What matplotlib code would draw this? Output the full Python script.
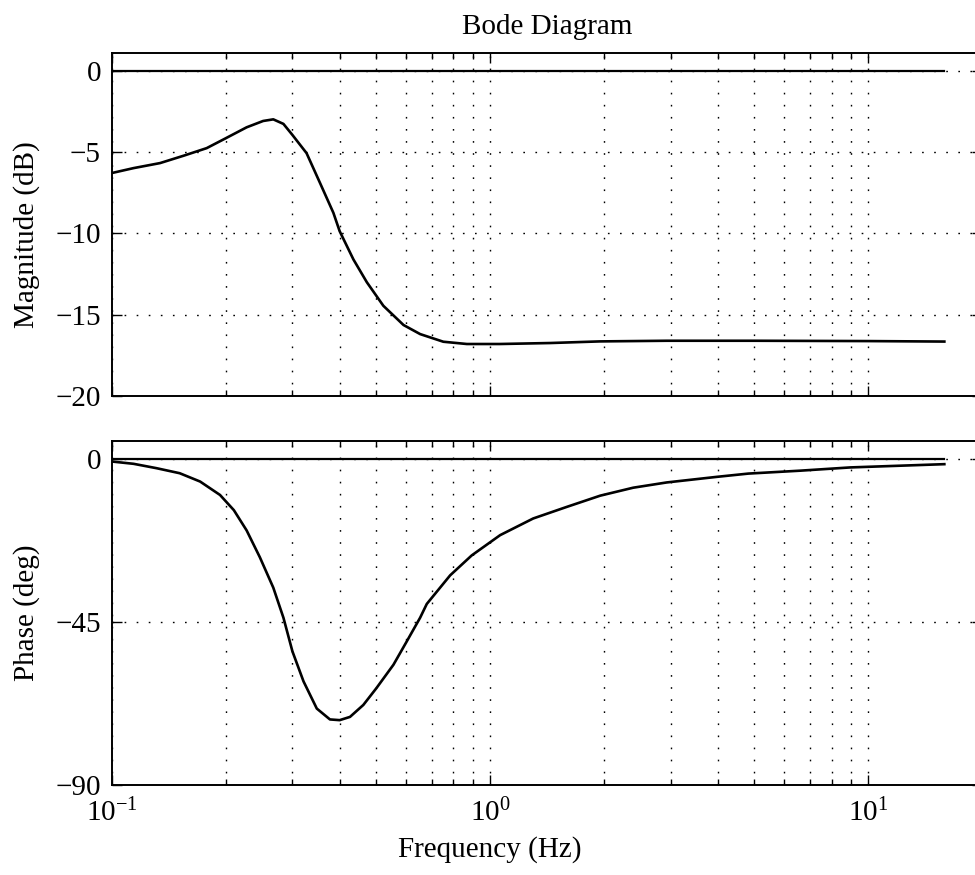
import matplotlib
matplotlib.use('Agg')
import matplotlib.pyplot as plt
from matplotlib.ticker import LogLocator, NullFormatter
import numpy as np

# Magnitud (dB)
frec_mag = [0.1, 0.114, 0.134, 0.1545, 0.178, 0.2, 0.227, 0.251, 0.267, 0.284,
            0.3, 0.327, 0.355, 0.385, 0.4, 0.435, 0.472, 0.522, 0.59, 0.653,
            0.752, 0.868, 1.06, 1.44, 1.95, 2.93, 5.0, 10.0, 15.9]
mag_db = [-6.28, -5.98, -5.67, -5.22, -4.75, -4.14, -3.47, -3.08, -2.98, -3.26,
          -3.94, -5.06, -6.9, -8.73, -9.86, -11.6, -13.0, -14.45, -15.63, -16.19,
          -16.66, -16.8, -16.8, -16.74, -16.64, -16.6, -16.6, -16.62, -16.65]

# Fase (grados)
frec_fase = [0.1, 0.114, 0.131, 0.151, 0.171, 0.193, 0.21, 0.227, 0.246, 0.267,
             0.284, 0.3, 0.321, 0.348, 0.377, 0.4, 0.426, 0.462, 0.5, 0.555,
             0.6, 0.653, 0.68, 0.784, 0.894, 1.063, 1.30, 1.595, 1.955, 2.39,
             2.93, 3.98, 4.82, 6.6, 8.96, 15.9]
fase_deg = [-0.67, -1.3, -2.5, -3.9, -6.2, -9.9, -14.1, -19.7, -27.1, -35.5,
            -43.8, -53.1, -61.4, -68.9, -71.9, -72.1, -71.2, -67.9, -63.3, -56.8,
            -50.6, -43.8, -40.0, -32.1, -26.6, -21.0, -16.4, -13.2, -10.1, -7.9,
            -6.45, -4.9, -4.0, -3.2, -2.3, -1.4]

# sistema de referencia (0 dB, 0 grados)
frec_ref = [0.1, 15.9]
ref_cero = [0, 0]

ticks_mag = [0, -5, -10, -15, -20]
ticks_fase = [0, -45, -90]

plt.rcParams['font.family'] = ['Liberation Serif', 'DejaVu Serif']
plt.rcParams['mathtext.fontset'] = 'stix'
tam = 21

fig = plt.figure(figsize=(9.75, 8.75), dpi=100)
ax1 = fig.add_axes([0.1149, 0.5474, 0.8923, 0.392])
ax2 = fig.add_axes([0.1149, 0.1029, 0.8923, 0.3931])

punteado = (0, (1.2, 7.5))


def preparar_eje(ax, yticks, ylim):
    ax.set_xscale('log')
    ax.set_xlim(0.1, 20)
    ax.set_ylim(*ylim)
    ax.set_yticks(yticks)
    ax.xaxis.set_major_locator(LogLocator(base=10, numticks=10))
    ax.xaxis.set_minor_locator(LogLocator(base=10, subs=np.arange(2, 10), numticks=20))
    ax.xaxis.set_minor_formatter(NullFormatter())
    ax.grid(True, which='both', axis='x', color='black', linestyle=punteado, linewidth=1.0)
    ax.grid(True, which='major', axis='y', color='black', linestyle=punteado, linewidth=1.0)
    ax.tick_params(which='both', direction='in', top=True, right=True,
                   labelsize=tam, width=1.0)
    ax.tick_params(axis='x', pad=10)
    ax.tick_params(axis='y', pad=8)
    ax.tick_params(which='major', length=7)
    ax.tick_params(which='minor', length=4)
    for s in ax.spines.values():
        s.set_linewidth(1.4)


preparar_eje(ax1, ticks_mag, (-20, 1.1))
ax1.plot(frec_ref, ref_cero, color='black', linewidth=1.6)
ax1.plot(frec_mag, mag_db, color='black', linewidth=1.9)
ax1.tick_params(labelbottom=False)
ax1.set_ylabel('Magnitude (dB)', fontsize=tam)
ax1.yaxis.set_label_coords(-0.083, 0.47)
ax1.set_title('Bode Diagram', fontsize=tam, pad=14)

preparar_eje(ax2, ticks_fase, (-90, 5))
ax2.plot(frec_ref, ref_cero, color='black', linewidth=1.6)
ax2.plot(frec_fase, fase_deg, color='black', linewidth=1.9)
ax2.set_ylabel('Phase (deg)', fontsize=tam)
ax2.yaxis.set_label_coords(-0.083, 0.5)
ax2.set_xlabel('Frequency (Hz)', fontsize=tam, labelpad=6, x=0.4345)

fig.savefig('out.png', dpi=100)
